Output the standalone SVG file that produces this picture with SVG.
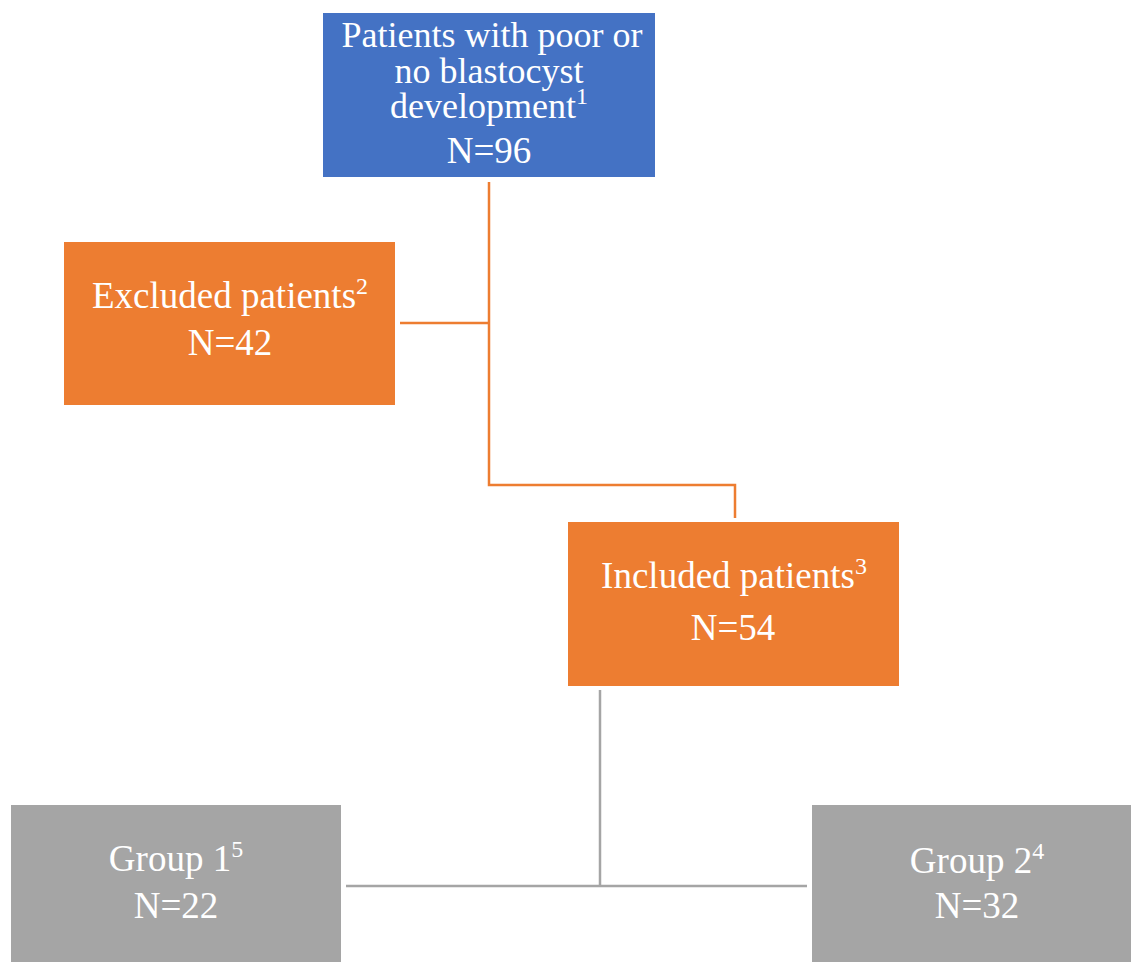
<svg xmlns="http://www.w3.org/2000/svg" width="1131" height="962" viewBox="0 0 1131 962">
<style>
.t{font-family:"Liberation Serif","Times New Roman",serif;font-size:37px;fill:#fff;text-anchor:middle}
.tt{font-size:36px}
.sup{font-size:24px}
.blue{fill:#4472C4}
.orange{fill:#ED7D31}
.gray{fill:#A5A5A5}
.co{stroke:#ED7D31;stroke-width:2.5;fill:none}
.cg{stroke:#A5A5A5;stroke-width:2.5;fill:none}
</style>
<rect width="1131" height="962" fill="#fff"/>
<g id="connectors">
<path class="co" d="M489 182 V485 H735 V518"/>
<path class="co" d="M400 323 H489"/>
<path class="cg" d="M600 690 V886"/>
<path class="cg" d="M346 886 H807"/>
</g>
<g id="n-start">
<rect class="blue" x="323" y="13" width="332" height="164"/>
<text class="t tt" x="492" y="47">Patients with poor or</text>
<text class="t tt" x="489" y="83">no blastocyst</text>
<text class="t tt" x="489" y="118">development<tspan class="sup" dy="-14">1</tspan></text>
<text class="t" x="489" y="163">N=96</text>
</g>
<g id="n-excluded">
<rect class="orange" x="64" y="242" width="331" height="163"/>
<text class="t" x="230" y="308">Excluded patients<tspan class="sup" dy="-14">2</tspan></text>
<text class="t" x="230" y="355">N=42</text>
</g>
<g id="n-included">
<rect class="orange" x="568" y="522" width="331" height="164"/>
<text class="t" x="734" y="588">Included patients<tspan class="sup" dy="-14">3</tspan></text>
<text class="t" x="733" y="640">N=54</text>
</g>
<g id="n-group1">
<rect class="gray" x="11" y="805" width="330" height="157"/>
<text class="t" x="176" y="871">Group 1<tspan class="sup" dy="-14">5</tspan></text>
<text class="t" x="176" y="918">N=22</text>
</g>
<g id="n-group2">
<rect class="gray" x="812" y="805" width="330" height="157"/>
<text class="t" x="977" y="873">Group 2<tspan class="sup" dy="-14">4</tspan></text>
<text class="t" x="977" y="918">N=32</text>
</g>
</svg>
